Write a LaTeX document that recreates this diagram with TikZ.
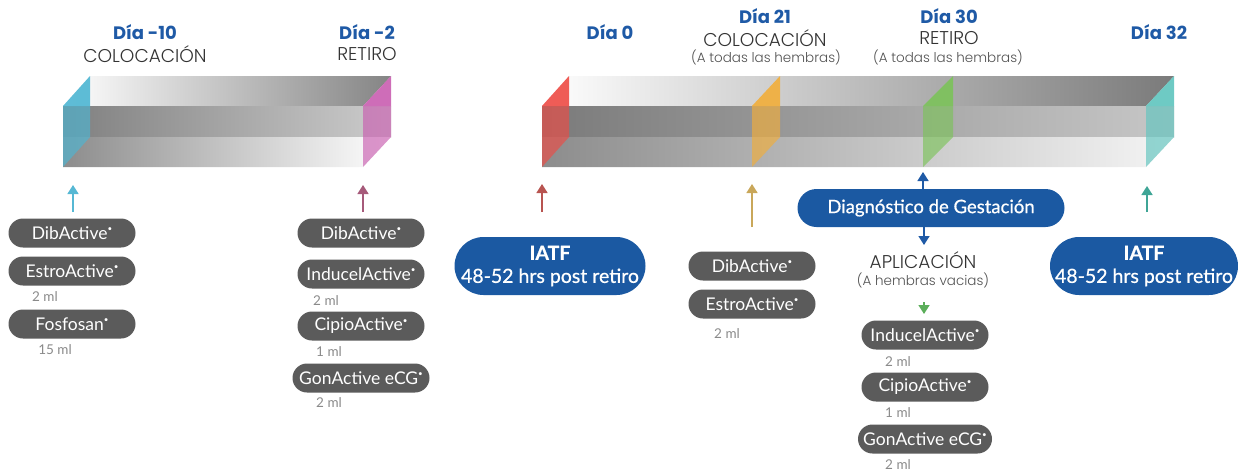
\documentclass[tikz,border=0pt]{standalone}
\usepackage{fontspec}
\setmainfont{Lato}
\newfontfamily\geo{Poppins}
\newfontfamily\geol{Poppins Light}
\newfontfamily\latomed[FakeBold=0.7]{Lato}
\usetikzlibrary{arrows.meta}
\definecolor{dblue}{HTML}{1F5AA6}
\definecolor{pillblue}{HTML}{1B59A2}
\definecolor{pillgray}{HTML}{5B5B5B}
\definecolor{mlgray}{HTML}{8A8A8A}
\definecolor{txtdark}{HTML}{333333}
\definecolor{capcyan}{HTML}{4DB6D3}
\definecolor{cappink}{HTML}{C95DB0}
\definecolor{capred}{HTML}{EE4B45}
\definecolor{capyel}{HTML}{F2AE3A}
\definecolor{capgreen}{HTML}{7CC35A}
\definecolor{capteal}{HTML}{5EC4BE}
\definecolor{acyan}{HTML}{56B8D4}
\definecolor{apink}{HTML}{A65A7A}
\definecolor{ared}{HTML}{B85450}
\definecolor{agold}{HTML}{C9A75A}
\definecolor{agreen}{HTML}{5BAE5A}
\definecolor{ateal}{HTML}{3FA596}
\newcommand\regd{\raisebox{0.45em}{\fontsize{8}{8}\selectfont•}}
\tikzset{
  gpill/.style={fill=pillgray, text=white, rounded corners=14.5pt, minimum width=127pt,
    minimum height=29pt, inner sep=0pt, font=\fontsize{17.5}{17.5}\selectfont},
  bpill/.style={fill=pillblue, text=white, rounded corners=29pt, minimum width=191pt,
    minimum height=58pt, inner sep=0pt, align=center, font=\latomed\fontsize{19.5}{23}\selectfont},
  mltxt/.style={text=mlgray, font=\fontsize{13.5}{13.5}\selectfont, inner sep=0pt},
  daytxt/.style={text=dblue, font=\geo\bfseries\fontsize{18}{18}\selectfont, inner sep=0pt},
  acttxt/.style={text=txtdark, font=\geol\fontsize{18.5}{18.5}\selectfont, inner sep=0pt},
  subtxt/.style={text=txtdark!85, font=\geol\fontsize{13.5}{13.5}\selectfont, inner sep=0pt},
  arr/.style={line width=1.6pt, -{Triangle[width=11pt,length=9pt]}},
  capup/.style={opacity=0.9},
  caplow/.style={opacity=0.65}
}
\begin{document}
\begin{tikzpicture}[x=1pt,y=-1pt]
\useasboundingbox (0,0) rectangle (1238,471);
% ---------- left bar ----------
\shade[left color=white, right color=black!48] (63,106) -- (90,76) -- (391,76) -- (363,106) -- cycle;
\shade[left color=black!50, right color=black!20] (63,106) rectangle (391,137);
\shade[left color=black!45, right color=white] (63,137) -- (391,137) -- (363,167) -- (63,167) -- cycle;
\fill[capcyan, capup] (63,106) -- (90,76) -- (90,106) -- cycle;
\fill[capcyan, caplow] (63,106) -- (90,106) -- (90,137) -- (63,167) -- cycle;
\fill[cappink, capup] (363,106) -- (391,76) -- (391,106) -- cycle;
\fill[cappink, caplow] (363,106) -- (391,106) -- (391,137) -- (363,167) -- cycle;
% ---------- right bar ----------
\shade[left color=white, middle color=black!22, right color=black!52] (542,106) -- (569,76) -- (1174,76) -- (1146,106) -- cycle;
\shade[left color=black!52, middle color=black!40, right color=black!22] (542,106) rectangle (1174,137);
\shade[left color=black!45, middle color=black!22, right color=black!4] (542,137) -- (1174,137) -- (1146,167) -- (542,167) -- cycle;
\fill[capred, capup] (542,106) -- (569,76) -- (569,106) -- cycle;
\fill[capred, caplow] (542,106) -- (569,106) -- (569,137) -- (542,167) -- cycle;
\fill[capyel, capup] (752,106) -- (780,76) -- (780,106) -- cycle;
\fill[capyel, caplow] (752,106) -- (780,106) -- (780,137) -- (752,167) -- cycle;
\fill[capgreen, capup] (923,106) -- (953,76) -- (953,106) -- cycle;
\fill[capgreen, caplow] (923,106) -- (953,106) -- (953,137) -- (923,167) -- cycle;
\fill[capteal, capup] (1146,106) -- (1174,76) -- (1174,106) -- cycle;
\fill[capteal, caplow] (1146,106) -- (1174,106) -- (1174,137) -- (1146,167) -- cycle;
% ---------- headings ----------
\node[daytxt] (d10) at (145,32) {Día -10};
\node[acttxt] (col1) at (145,54) {COLOCACIÓN};
\node[daytxt] (d2) at (367,32) {Día -2};
\node[acttxt] (ret1) at (367,54) {RETIRO};
\node[daytxt] (d0) at (610,32) {Día 0};
\node[daytxt] (d21) at (765,16) {Día 21};
\node[acttxt] (col2) at (765,38) {COLOCACIÓN};
\node[subtxt] (h1) at (766,57) {(A todas las hembras)};
\node[daytxt] (d30) at (949,16) {Día 30};
\node[acttxt] (ret2) at (949,38) {RETIRO};
\node[subtxt] (h2) at (948,57) {(A todas las hembras)};
\node[daytxt] (d32) at (1159,32) {Día 32};
% ---------- Día -10 group ----------
\node[gpill] (p1) at (72,233) {DibActive\regd};
\node[gpill] (p2) at (72,271) {EstroActive\regd};
\node[mltxt] (m1) at (45,297) {2 ml};
\node[gpill] (p3) at (72,324) {Fosfosan\regd};
\node[mltxt] (m2) at (55,350) {15 ml};
% ---------- Día -2 group ----------
\node[gpill] (q1) at (361,233) {DibActive\regd};
\node[gpill] (q2) at (361,274) {InducelActive\regd};
\node[mltxt] (m3) at (326,301) {2 ml};
\node[gpill] (q3) at (361,326) {CipioActive\regd};
\node[mltxt] (m4) at (329,352) {1 ml};
\node[gpill, minimum width=137pt] (q4) at (361,378) {GonActive eCG\regd};
\node[mltxt] (m5) at (329,403) {2 ml};
% ---------- Día 0 ----------
\node[bpill] (iatf1) at (550,266) {\textbf{IATF}\\48-52 hrs post retiro};
% ---------- Día 21 group ----------
\node[gpill] (r1) at (752,266) {DibActive\regd};
\node[gpill] (r2) at (752,304) {EstroActive\regd};
\node[mltxt] (m6) at (727,334) {2 ml};
% ---------- Día 30 group ----------
\node[fill=pillblue, text=white, rounded corners=19pt, minimum width=267pt, minimum height=38pt,
  inner sep=0pt, font=\latomed\fontsize{18.5}{18.5}\selectfont] (diag) at (931,208) {Diagnóstico de Gestación};
\node[acttxt] (apl) at (923,260) {APLICACIÓN};
\node[subtxt] (vac) at (923,280) {(A hembras vacias)};
\node[gpill] (s1) at (925,335) {InducelActive\regd};
\node[mltxt] (m7) at (898,362) {2 ml};
\node[gpill] (s2) at (925,387) {CipioActive\regd};
\node[mltxt] (m8) at (898,413) {1 ml};
\node[gpill, minimum width=134pt] (s3) at (925,439) {GonActive eCG\regd};
\node[mltxt] (m9) at (898,465) {2 ml};
% ---------- Día 32 ----------
\node[bpill, minimum width=188pt] (iatf2) at (1144,266) {\textbf{IATF}\\48-52 hrs post retiro};
% ---------- arrows ----------
\coordinate (a1s) at (73,212); \coordinate (a1e) at (73,185);
\coordinate (a2s) at (363,212); \coordinate (a2e) at (363,185);
\coordinate (a3s) at (542,212); \coordinate (a3e) at (542,184);
\coordinate (a4s) at (752,227); \coordinate (a4e) at (752,184);
\coordinate (a5e) at (923,172);
\coordinate (a6e) at (924,245);
\coordinate (a7s) at (924,302); \coordinate (a7e) at (924,314);
\coordinate (a8s) at (1147,212); \coordinate (a8e) at (1147,186);
\draw[arr, acyan] (a1s) -- (a1e);
\draw[arr, apink] (a2s) -- (a2e);
\draw[arr, ared] (a3s) -- (a3e);
\draw[arr, agold] (a4s) -- (a4e);
\draw[arr, dblue] (diag.north -| a5e) -- (a5e);
\draw[arr, dblue] (diag.south -| a6e) -- (a6e);
\draw[arr, agreen] (a7s) -- (a7e);
\draw[arr, ateal] (a8s) -- (a8e);
\end{tikzpicture}
\end{document}
